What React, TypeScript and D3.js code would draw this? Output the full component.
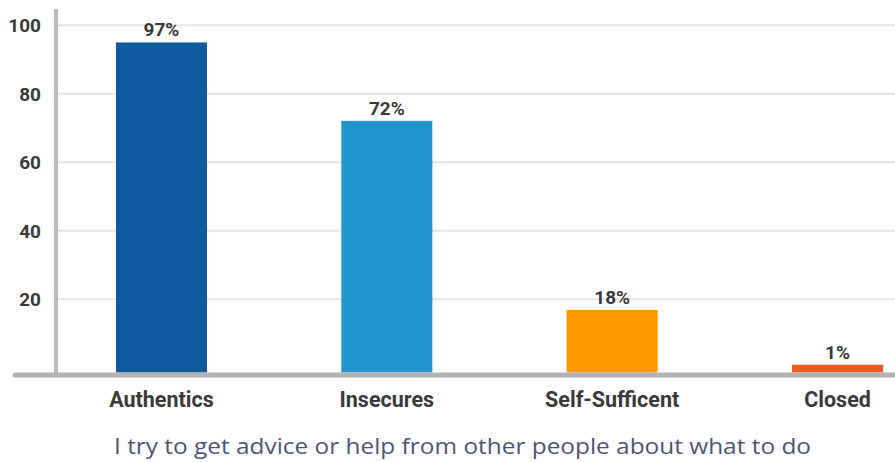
import React from "react";
import * as d3 from "d3";

const categories = ["Authentics", "Insecures", "Self-Sufficent", "Closed"];
const values = [95.0, 72.1, 16.9, 0.9];
const valueLabels = ["97%", "72%", "18%", "1%"];
const barColors = ["#0F5B9D", "#2395CE", "#FE9900", "#EF5A1F"];
const yTicks = [20, 40, 60, 80, 100];
const caption = "I try to get advice or help from other people about what to do";

const W = 895;
const H = 462;

export default function App() {
  const y = d3.scaleLinear().domain([0, 100]).range([367.8, 25.3]);
  const x = d3
    .scaleBand<string>()
    .domain(categories)
    .range([56, 943])
    .paddingInner(0.596)
    .paddingOuter(0.266);
  const baseY = 375;
  const font = "Roboto, 'Open Sans', sans-serif";
  return (
    <svg
      width={W}
      height={H}
      style={{ position: "absolute", left: 0, top: 0, background: "#fff" }}
    >
      {yTicks.map((t) => (
        <g key={t}>
          <line x1={58} x2={W} y1={y(t)} y2={y(t)} stroke="#e6e6e6" strokeWidth={2} />
          <text
            x={41}
            y={y(t)}
            dy="0.36em"
            textAnchor="end"
            fontFamily={font}
            fontWeight={700}
            fontSize={19}
            fill="#3a3a3a"
          >
            {t}
          </text>
        </g>
      ))}
      {categories.map((c, i) => (
        <g key={c}>
          <rect
            x={x(c)}
            y={y(values[i])}
            width={x.bandwidth()}
            height={372.5 - y(values[i])}
            fill={barColors[i]}
          />
          <text
            x={(x(c) as number) + x.bandwidth() / 2}
            y={y(values[i]) - 6}
            textAnchor="middle"
            fontFamily={font}
            fontWeight={700}
            fontSize={19}
            fill="#3a3a3a"
          >
            {valueLabels[i]}
          </text>
          <text
            x={(x(c) as number) + x.bandwidth() / 2}
            y={407}
            textAnchor="middle"
            fontFamily={font}
            fontWeight={700}
            fontSize={21.5}
            fill="#3a3a3a"
          >
            {c}
          </text>
        </g>
      ))}
      <line x1={56} x2={56} y1={9} y2={baseY} stroke="#bbbbbb" strokeWidth={4} />
      <line
        x1={15}
        x2={W}
        y1={baseY}
        y2={baseY}
        stroke="#b3b3b3"
        strokeWidth={5}
        strokeLinecap="round"
      />
      <text
        x={114}
        y={454}
        textLength={697}
        lengthAdjust="spacingAndGlyphs"
        fontFamily="'Open Sans', Lato, sans-serif"
        fontSize={22}
        fill="#4E5474"
      >
        {caption}
      </text>
    </svg>
  );
}
